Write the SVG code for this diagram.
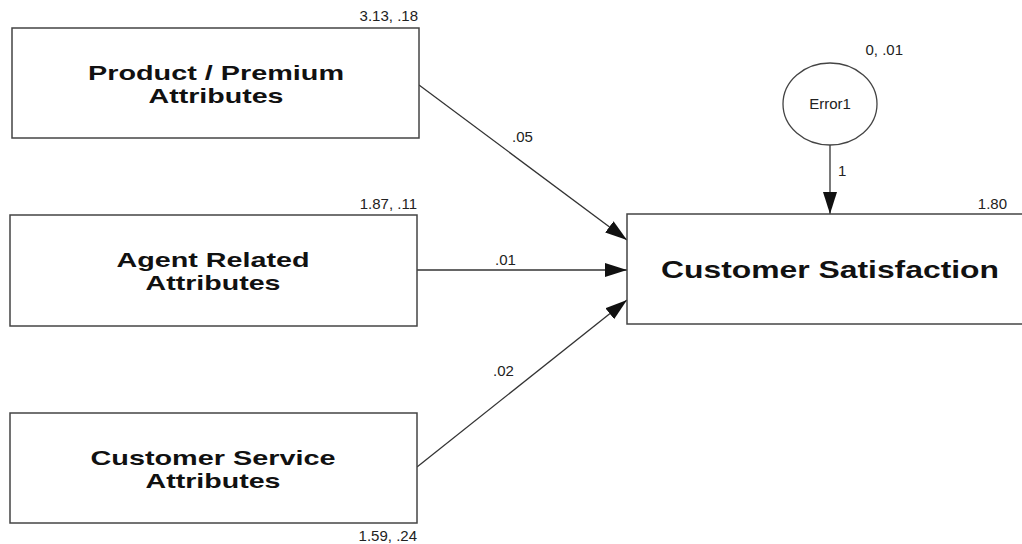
<svg xmlns="http://www.w3.org/2000/svg" width="1022" height="544" viewBox="0 0 1022 544">
  <style>
    .box { fill: #fff; stroke: #444; stroke-width: 1.5; }
    .title { font-family: "Liberation Sans", Arial, sans-serif; font-weight: bold; font-size: 21px; fill: #111; text-anchor: middle; }
    .big { font-size: 24px; }
    .num { font-family: "Liberation Sans", Arial, sans-serif; font-size: 15px; fill: #222; }
    .edge { stroke: #333; stroke-width: 1.3; fill: none; marker-end: url(#arrow); }
  </style>
  <defs>
    <marker id="arrow" viewBox="0 0 22 14" refX="22" refY="7" markerWidth="22" markerHeight="14" markerUnits="userSpaceOnUse" orient="auto">
      <path d="M0,0 L22,7 L0,14 Z" fill="#111"/>
    </marker>
  </defs>
  <rect width="1022" height="544" fill="#fff"/>

  <g id="connectors">
    <line class="edge" x1="419" y1="85" x2="627" y2="240"/>
    <line class="edge" x1="417" y1="270" x2="627" y2="270"/>
    <line class="edge" x1="417" y1="467" x2="627" y2="300"/>
    <line class="edge" x1="830" y1="145" x2="830" y2="214"/>
    <text class="num" x="512" y="142">.05</text>
    <text class="num" x="495" y="265">.01</text>
    <text class="num" x="493" y="376">.02</text>
    <text class="num" x="838" y="176">1</text>
  </g>

  <g id="product-premium">
    <rect class="box" x="12" y="28" width="407" height="110"/>
    <text class="title" x="216" y="80" textLength="256" lengthAdjust="spacingAndGlyphs">Product / Premium</text>
    <text class="title" x="216" y="103" textLength="135" lengthAdjust="spacingAndGlyphs">Attributes</text>
    <text class="num" x="418" y="21" text-anchor="end">3.13, .18</text>
  </g>

  <g id="agent-related">
    <rect class="box" x="10" y="215" width="407" height="111"/>
    <text class="title" x="213" y="267" textLength="193" lengthAdjust="spacingAndGlyphs">Agent Related</text>
    <text class="title" x="213" y="290" textLength="135" lengthAdjust="spacingAndGlyphs">Attributes</text>
    <text class="num" x="417" y="209" text-anchor="end">1.87, .11</text>
  </g>

  <g id="customer-service">
    <rect class="box" x="10" y="413" width="407" height="110"/>
    <text class="title" x="213" y="465" textLength="245" lengthAdjust="spacingAndGlyphs">Customer Service</text>
    <text class="title" x="213" y="488" textLength="135" lengthAdjust="spacingAndGlyphs">Attributes</text>
    <text class="num" x="417" y="541" text-anchor="end">1.59, .24</text>
  </g>

  <g id="customer-satisfaction">
    <rect class="box" x="627" y="214" width="400" height="110"/>
    <text class="title big" x="830" y="278" textLength="338" lengthAdjust="spacingAndGlyphs">Customer Satisfaction</text>
    <text class="num" x="1007" y="209" text-anchor="end">1.80</text>
  </g>

  <g id="error1">
    <ellipse cx="830" cy="104" rx="47" ry="41" fill="#fff" stroke="#444" stroke-width="1.3"/>
    <text class="num" x="830" y="109" text-anchor="middle">Error1</text>
    <text class="num" x="903" y="55" text-anchor="end">0, .01</text>
  </g>
</svg>
